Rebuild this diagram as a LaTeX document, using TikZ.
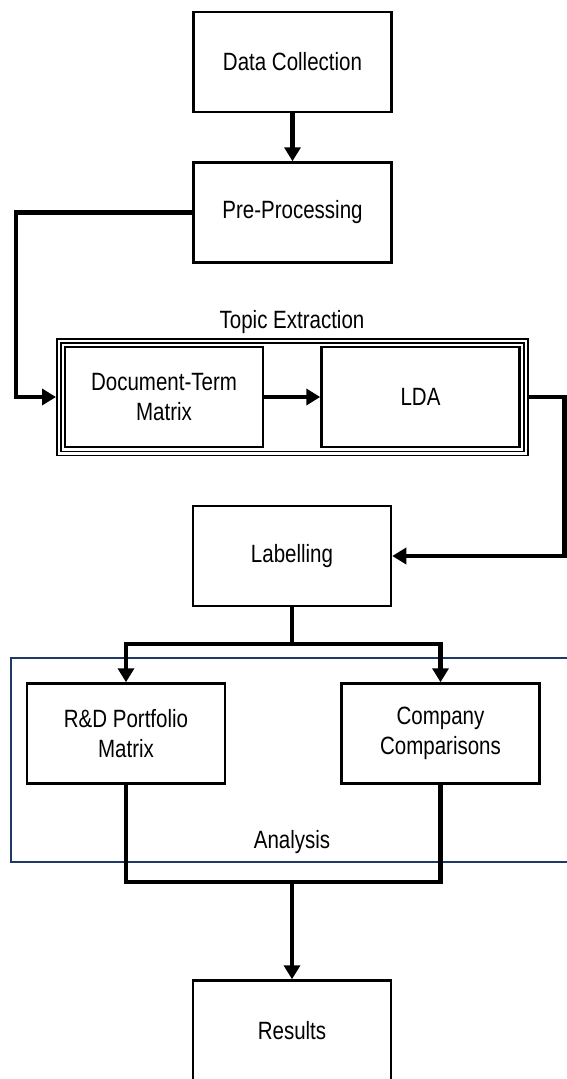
\documentclass[tikz,border=0pt]{standalone}
\usepackage{fontspec}
\setmainfont{Liberation Sans}[FakeStretch=0.82]
\usepackage{xcolor}
\usetikzlibrary{arrows.meta,positioning,fit}
\definecolor{navy}{RGB}{32,56,100}

\begin{document}
\begin{tikzpicture}[x=1pt,y=-1pt,semithick]
    \tikzstyle{block}=[draw,line width=2.5pt,minimum width=198pt,minimum height=100pt,align=center,font=\fontsize{25}{30}\selectfont]
    \tikzstyle{group}=[draw,double,line width=1.5pt,double distance=2.5pt,inner sep=5pt,outer sep=2.75pt]
    \tikzstyle{frame}=[draw=navy,line width=2pt]
    \tikzstyle{caption}=[anchor=base,inner sep=0pt,font=\fontsize{25}{30}\selectfont]
    \tikzstyle{line}=[line width=4.5pt]
    \tikzstyle{flow}=[line width=4.5pt,-{Triangle[width=16pt,length=14pt]}]

    \useasboundingbox (0,0) rectangle (567,1079);

    % analysis frame goes first, the arrows run over it
    \draw[frame] (11,658) rectangle (590,862);
    \node[caption] (antitle) at (292,848) {Analysis};

    \node[block] (dc) at (292.5,62) {Data Collection};
    \node[block] (pp) [below=48pt of dc] {Pre-Processing};
    \node[block] (dtm) at (164,397) {Document-Term\\Matrix};
    \node[block] (lda) [right=56pt of dtm] {LDA};
    \node[group,fit=(dtm)(lda)] (te) {};
    \node[caption] (tetitle) at (292,328) {Topic Extraction};
    \node[block] (lab) at (292,556) {Labelling};
    \node[block] (rd) at (126,733.5) {R\&D Portfolio\\Matrix};
    \node[block] (cc) [right=114pt of rd] {Company\\Comparisons};
    \node[block] (res) at (292,1030.5) {Results};

    \coordinate (split) at (292,644);
    \coordinate (join) at (292,882);

    \draw[flow] (dc) -- (pp);
    \draw[flow] (pp.west) -| ([xshift=-40pt]te.west) -- (te.west);
    \draw[flow] (dtm) -- (lda);
    \draw[flow] (te.east) -- ++(36,0) |- (lab.east);
    \draw[line] (lab) -- (split);
    \draw[flow] (split) -| (rd);
    \draw[flow] (split) -| (cc);
    \draw[line] (rd) |- (join) -| (cc);
    \draw[flow] (join) -- (res);
\end{tikzpicture}
\end{document}
